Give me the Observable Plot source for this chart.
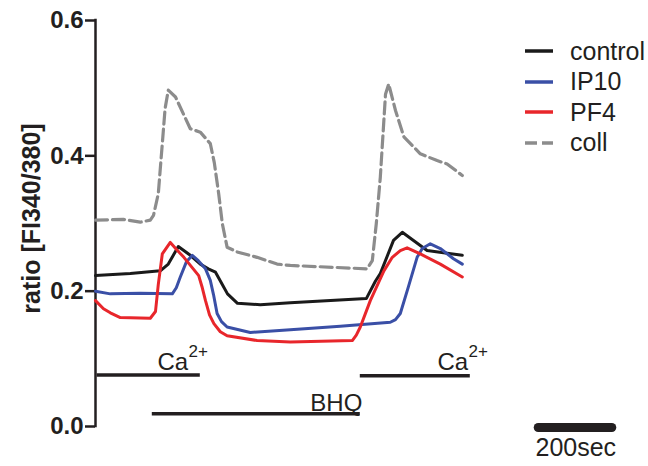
<!DOCTYPE html>
<html>
<head>
<meta charset="utf-8">
<script src="https://cdn.jsdelivr.net/npm/d3@7"></script>
<script src="https://cdn.jsdelivr.net/npm/@observablehq/plot@0.6"></script>
<style>
  html, body { margin: 0; padding: 0; background: #fff; }
  #wrap { position: relative; width: 648px; height: 466px; font-family: "Liberation Sans", Arial, sans-serif; color: #231f20; }
  #legend { position: absolute; left: 525px; top: 36px; }
  .row { display: flex; align-items: center; height: 30.5px; font-size: 25px; }
  .row svg { margin-right: 17px; }
</style>
</head>
<body>
<div id="wrap"></div>
<script>
// ---- data (time in s, value = ratio F340/380) ----
const seriesNames = ["coll", "control", "IP10", "PF4"];
const seriesColors = {control: "#1a1a1a", IP10: "#3a4fa6", PF4: "#e8262b", coll: "#8c8c8c"};

const controlT = [0, 87, 162, 182, 207, 237, 262, 282, 300, 317, 330, 355, 412, 487, 677, 700, 712, 745, 767, 795, 829, 879, 917];
const controlV = [0.223, 0.226, 0.230, 0.240, 0.266, 0.253, 0.240, 0.233, 0.228, 0.210, 0.196, 0.182, 0.180, 0.183, 0.189, 0.215, 0.226, 0.275, 0.287, 0.275, 0.260, 0.256, 0.253];

const ip10T = [0, 37, 112, 192, 202, 212, 227, 242, 257, 275, 287, 295, 304, 315, 329, 387, 487, 612, 737, 750, 762, 782, 804, 817, 837, 862, 895, 917];
const ip10V = [0.200, 0.196, 0.197, 0.196, 0.205, 0.221, 0.243, 0.253, 0.245, 0.233, 0.216, 0.195, 0.167, 0.155, 0.147, 0.139, 0.143, 0.148, 0.154, 0.158, 0.167, 0.206, 0.250, 0.263, 0.270, 0.263, 0.248, 0.240];

const pf4T = [0, 20, 37, 62, 137, 150, 157, 167, 187, 202, 221, 258, 267, 275, 285, 296, 312, 329, 404, 487, 642, 652, 662, 687, 721, 742, 762, 779, 812, 862, 917];
const pf4V = [0.186, 0.174, 0.168, 0.161, 0.160, 0.170, 0.210, 0.255, 0.272, 0.262, 0.250, 0.223, 0.205, 0.186, 0.165, 0.152, 0.140, 0.134, 0.127, 0.125, 0.127, 0.135, 0.147, 0.186, 0.230, 0.250, 0.260, 0.264, 0.255, 0.240, 0.221];

const collT = [0, 70, 112, 137, 145, 157, 167, 174, 182, 200, 237, 262, 287, 297, 308, 317, 329, 354, 404, 454, 487, 679, 692, 702, 712, 725, 733, 750, 771, 812, 854, 879, 917];
const collV = [0.305, 0.306, 0.302, 0.305, 0.312, 0.344, 0.418, 0.470, 0.497, 0.487, 0.440, 0.435, 0.418, 0.390, 0.344, 0.300, 0.265, 0.258, 0.250, 0.240, 0.238, 0.233, 0.245, 0.300, 0.368, 0.491, 0.506, 0.467, 0.428, 0.403, 0.393, 0.388, 0.371];

const yTicks = [0, 0.2, 0.4, 0.6];

// treatment bars
const barStart = [4, 662, 142];
const barEnd = [262, 937, 662];
const barLevel = [0.076, 0.075, 0.019];

// treatment labels
const labelText = ["Ca", "Ca", "BHQ"];
const labelSup = ["2+", "2+", ""];
const labelX = [155, 855, 537];
const labelY = [0.084, 0.083, 0.0236];

// scale bar
const scaleStart = [1108];
const scaleEnd = [1292];
const scaleLevel = [-0.0015];
const scaleText = ["200sec"];
const scaleTextX = [1100];
const scaleTextY = [-0.043];

// ---- build tables ----
const raw = {control: [controlT, controlV], IP10: [ip10T, ip10V], PF4: [pf4T, pf4V], coll: [collT, collV]};
const data = seriesNames.flatMap(s => raw[s][0].map((t, i) => ({series: s, t, v: raw[s][1][i]})));
const bars = barStart.map((s, i) => ({start: s, end: barEnd[i], level: barLevel[i]}));
const labels = labelText.map((t, i) => ({text: t, sup: labelSup[i], x: labelX[i], y: labelY[i]}));
const scaleBar = scaleStart.map((s, i) => ({start: s, end: scaleEnd[i], level: scaleLevel[i], text: scaleText[i], tx: scaleTextX[i], ty: scaleTextY[i]}));

const ink = "#231f20";

const lineMarks = seriesNames.map(s => Plot.line(data.filter(d => d.series === s), {
  x: "t", y: "v", stroke: seriesColors[s], strokeWidth: s === "coll" ? 3.2 : 3,
  strokeDasharray: s === "coll" ? "12,5" : null, curve: "linear"
}));

const chart = Plot.plot({
  width: 648, height: 466,
  marginLeft: 95, marginRight: 5, marginTop: 20, marginBottom: 40,
  style: {fontFamily: "Liberation Sans, Arial, sans-serif", background: "white", color: ink, overflow: "visible"},
  x: {domain: [0, 1370], axis: null},
  y: {domain: [0, 0.6]},
  marks: [
    Plot.axisY({ticks: yTicks, tickFormat: d3.format(".1f"), tickSize: 10, tickPadding: 2,
      fontSize: 24, fontWeight: "bold", stroke: ink, strokeWidth: 2.5, fill: ink, label: null}),
    Plot.ruleX([0], {y1: 0, y2: 0.6, stroke: ink, strokeWidth: 2.5, strokeLinecap: "square"}),
    Plot.text(["ratio [FI340/380]"], {frameAnchor: "left", rotate: -90, dx: -64, dy: -5,
      fontSize: 25, fontWeight: "bold", fill: ink, textAnchor: "middle"}),
    ...lineMarks,
    Plot.ruleY(bars, {x1: "start", x2: "end", y: "level", stroke: ink, strokeWidth: 3.5}),
    Plot.text(labels, {x: "x", y: "y", text: "text", textAnchor: "start", lineAnchor: "bottom", fontSize: 24, fill: ink}),
    Plot.text(labels, {x: "x", y: "y", text: "sup", textAnchor: "start", lineAnchor: "bottom", fontSize: 17, fill: ink, dx: 31, dy: -13}),
    Plot.ruleY(scaleBar, {x1: "start", x2: "end", y: "level", stroke: ink, strokeWidth: 9, strokeLinecap: "round"}),
    Plot.text(scaleBar, {x: "tx", y: "ty", text: "text", textAnchor: "start", lineAnchor: "bottom", fontSize: 25, fill: ink})
  ]
});

const wrap = document.getElementById("wrap");
wrap.appendChild(chart);

// legend
const legendOrder = ["control", "IP10", "PF4", "coll"];
const legend = document.createElement("div");
legend.id = "legend";
legendOrder.forEach(s => {
  const row = document.createElement("div");
  row.className = "row";
  const dash = s === "coll" ? 'stroke-dasharray="12,5"' : "";
  row.innerHTML = `<svg width="28" height="6"><line x1="0" x2="28" y1="3" y2="3" stroke="${seriesColors[s]}" stroke-width="3.5" ${dash}/></svg><span>${s}</span>`;
  legend.appendChild(row);
});
wrap.appendChild(legend);
</script>
</body>
</html>
